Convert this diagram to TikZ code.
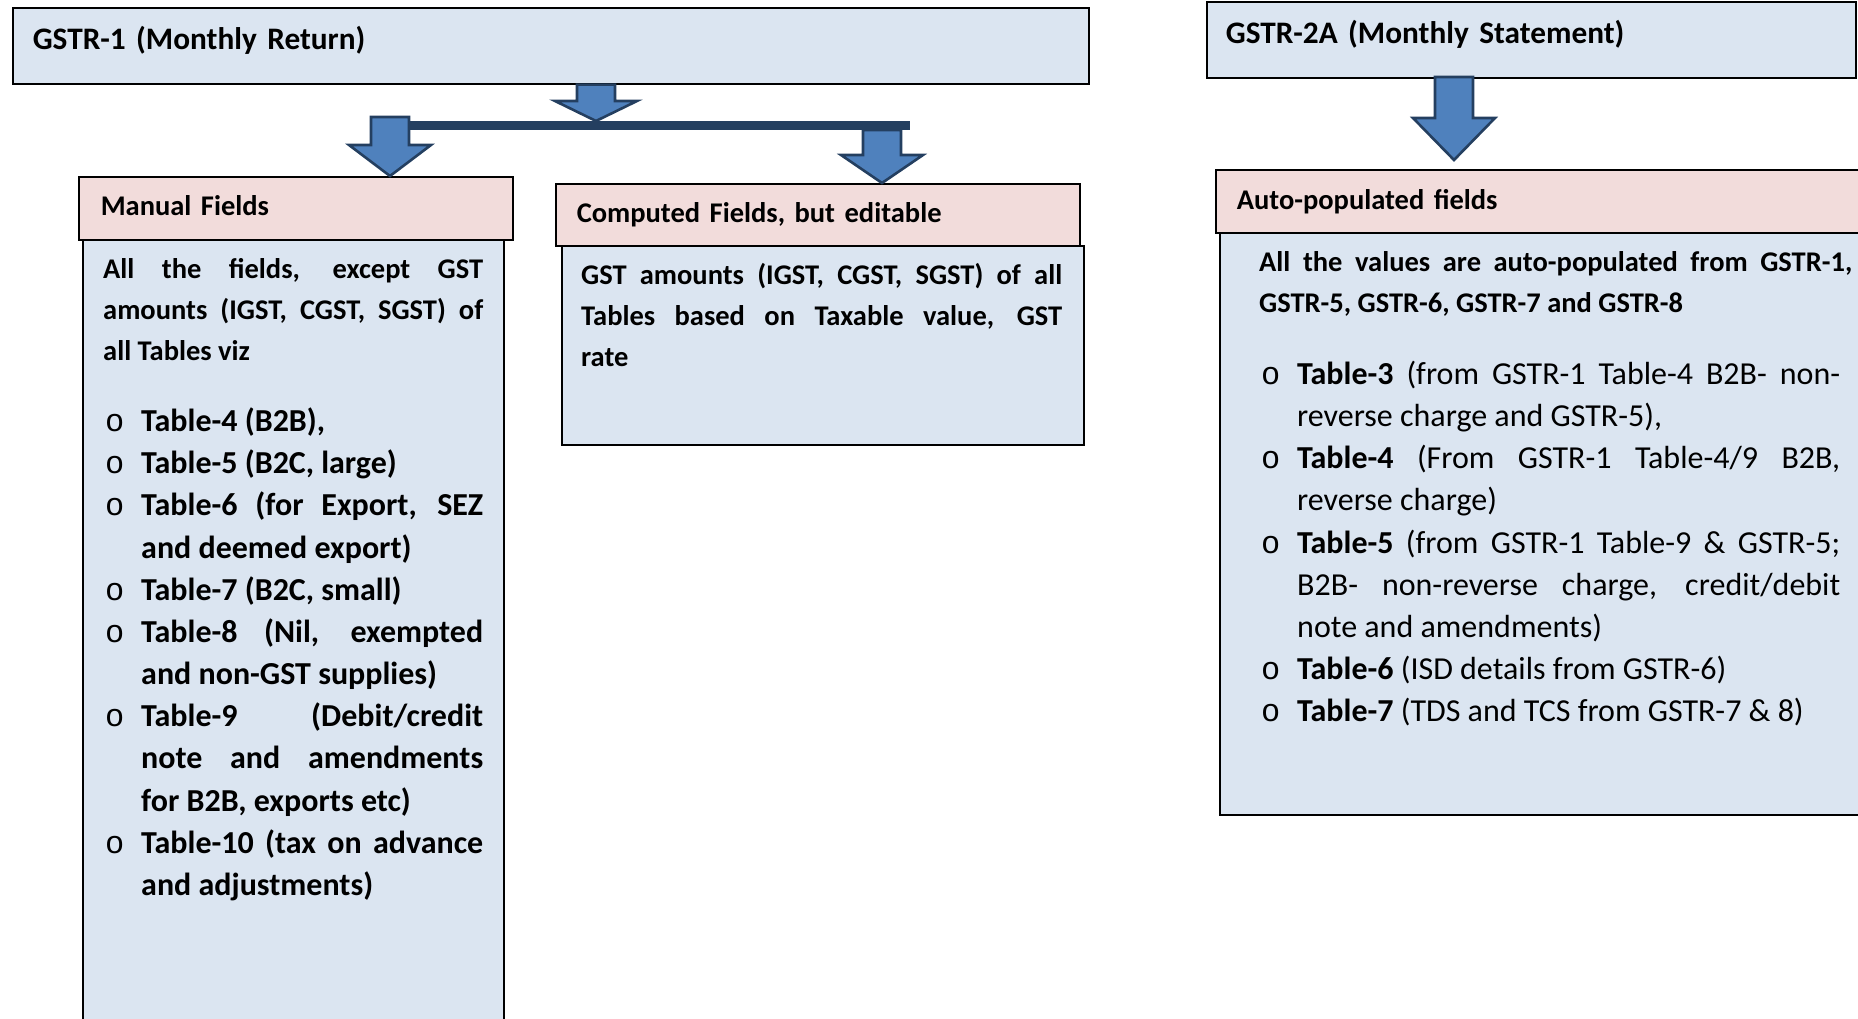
\documentclass[tikz,border=0pt]{standalone}
\usepackage{fontspec}
\setmainfont{Carlito}
\newfontfamily\bulletfont{Liberation Mono}
\usetikzlibrary{calc,positioning}

\definecolor{boxblue}{HTML}{DBE5F1}
\definecolor{boxpink}{HTML}{F2DCDB}
\definecolor{arrowfill}{HTML}{4F81BD}
\definecolor{arrowline}{HTML}{243F60}

\setlength{\parindent}{0pt}
\tolerance=10000
\hyphenpenalty=10000
\newcommand\parasize{\fontsize{28.5pt}{41pt}\selectfont}
\newcommand\listsize{\fontsize{32pt}{42.2pt}\selectfont}
\newcommand\titlesize{\fontsize{31.3pt}{42pt}\selectfont}
% one bullet line, hanging indent
\newcommand\gbul{\par\noindent\hangindent=38pt\hangafter=1%
  \makebox[38pt][l]{\hspace{2pt}{\bulletfont\mdseries o}}}
% fat arrow: top point, tip point, head length
\newcommand\blockarrow[3]{%
  \draw[fatarrow] let \p1=(#1), \p2=(#2) in
    (\x1-19pt,\y1) -- (\x1+19pt,\y1) -- (\x1+19pt,\y2+#3pt) -- (\x1+41pt,\y2+#3pt)
    -- (\x1,\y2) -- (\x1-41pt,\y2+#3pt) -- (\x1-19pt,\y2+#3pt) -- cycle;}

\begin{document}
\begin{tikzpicture}[x=1pt,y=-1pt,
    titlebox/.style={draw=black, line width=1.6pt, fill=boxblue, anchor=north west,
      inner ysep=0pt, align=left, font=\titlesize\bfseries},
    headbox/.style={draw=black, line width=1.6pt, fill=boxpink, anchor=north west,
      inner ysep=0pt, align=left, font=\parasize\bfseries},
    bodybox/.style={draw=black, line width=1.6pt, fill=boxblue, anchor=north west,
      inner sep=0pt},
    bodytext/.style={anchor=north west, inner sep=0pt, align=justify, font=\parasize},
    boldtext/.style={bodytext, font=\parasize\bfseries},
    fatarrow/.style={draw=arrowline, line width=2.6pt, fill=arrowfill, line join=miter}]
  \useasboundingbox (0,0) rectangle (1858,1019);
  \clip (0,0) rectangle (1858,1019);

  % GSTR-1 side
  \node[titlebox, inner xsep=20pt, text width=1036pt, text height=42pt, text depth=34pt]
    (gstrone) at (12,7) {GSTR-1 (Monthly Return)};
  \node[bodybox, minimum width=421pt, minimum height=820pt] (manualbody) at (82,239) {};
  \node[headbox, inner xsep=22pt, text width=390pt, text height=39pt, text depth=24pt]
    (manualhead) at (78,176) {Manual Fields};
  \node[bodybox, minimum width=522pt, minimum height=199pt] (compbody) at (561,245) {};
  \node[headbox, inner xsep=21pt, text width=482pt, text height=39pt, text depth=23pt]
    (comphead) at (555,183) {Computed Fields, but editable};

  \node[boldtext, text width=380pt] (manualtext) at (103,249.3) {%
    \noindent\strut All the fields, except GST\linebreak amounts (IGST, CGST, SGST) of\linebreak
    all Tables viz\par\vspace{29pt}\listsize
    \gbul Table-4 (B2B),
    \gbul Table-5 (B2C, large)
    \gbul Table-6 (for Export, SEZ\linebreak and deemed export)
    \gbul Table-7 (B2C, small)
    \gbul Table-8 (Nil, exempted\linebreak and non-GST supplies)
    \gbul Table-9 (Debit/credit\linebreak note and amendments\linebreak for B2B, exports etc)
    \gbul Table-10 (tax on advance\linebreak and adjustments)\par};
  \node[boldtext, text width=481pt] (comptext) at (581,256) {%
    \noindent\strut GST amounts (IGST, CGST, SGST) of all\linebreak
    Tables based on Taxable value, GST\linebreak rate\par};

  % bar and arrows
  \coordinate (splittop) at (596,121);
  \coordinate (splitleft) at (390,125.5);
  \coordinate (splitright) at (910,125.5);
  \coordinate (leftdrop) at (390,117);
  \coordinate (rightdrop) at (882,130);
  \draw[arrowline, line width=9pt] (splitleft) -- (splitright);
  \blockarrow{splittop |- gstrone.south}{splittop}{20}
  \blockarrow{leftdrop}{leftdrop |- manualhead.north}{31}
  \blockarrow{rightdrop}{rightdrop |- comphead.north}{28}

  % GSTR-2A side
  \node[titlebox, inner xsep=19pt, text width=611pt, text height=42pt, text depth=34pt]
    (gstrtwo) at (1206,1) {GSTR-2A (Monthly Statement)};
  \node[bodybox, minimum width=660pt, minimum height=582pt] (autobody) at (1219,232) {};
  \node[headbox, inner xsep=21pt, text width=640pt, text height=40pt, text depth=23pt]
    (autohead) at (1215,169) {Auto-populated fields};
  \coordinate (autodrop) at (1454,77);
  \coordinate (autotip) at (1454,160);
  \blockarrow{autodrop}{autotip}{42}

  \node[bodytext, text width=593pt] (autotext) at (1259,242.3) {%
    \noindent\strut\textbf{All the values are auto-populated from GSTR-1,\linebreak
    GSTR-5, GSTR-6, GSTR-7 and GSTR-8}\par\vspace{30pt}\listsize
    \rightskip=12pt
    \gbul\textbf{Table-3} (from GSTR-1 Table-4 B2B- non-\linebreak reverse charge and GSTR-5),
    \gbul\textbf{Table-4} (From GSTR-1 Table-4/9 B2B,\linebreak reverse charge)
    \gbul\textbf{Table-5} (from GSTR-1 Table-9 \& GSTR-5;\linebreak
      B2B- non-reverse charge, credit/debit\linebreak note and amendments)
    \gbul\textbf{Table-6} (ISD details from GSTR-6)
    \gbul\textbf{Table-7} (TDS and TCS from GSTR-7 \& 8)\par};
\end{tikzpicture}
\end{document}
